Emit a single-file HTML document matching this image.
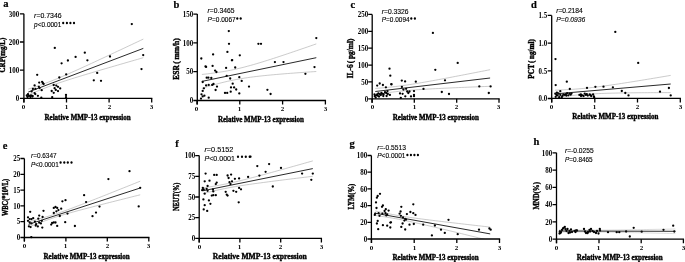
<!DOCTYPE html>
<html><head><meta charset="utf-8"><style>
html,body{margin:0;padding:0;background:#fff;}
svg{display:block;filter:grayscale(1) blur(0.3px);}
.tk{font-family:"Liberation Serif",serif;font-weight:bold;font-size:7.4px;}
.tkx{font-family:"Liberation Serif",serif;font-weight:bold;font-size:7.0px;}
.xl{font-family:"Liberation Serif",serif;font-weight:bold;font-size:7.0px;stroke:#000;stroke-width:0.35px;}
.yl{font-family:"Liberation Serif",serif;font-weight:bold;font-size:7.0px;stroke:#000;stroke-width:0.35px;}
.let{font-family:"Liberation Serif",serif;font-weight:bold;font-size:10.5px;stroke:#000;stroke-width:0.2px;}
.st{font-family:"Liberation Sans",sans-serif;font-size:6.7px;stroke:#000;stroke-width:0.12px;}
</style></head><body>
<svg width="685" height="262" viewBox="0 0 685 262">
<rect width="685" height="262" fill="#fff"/>
<g><clipPath id="c0"><rect x="23.9" y="-6.199999999999999" width="132.79999999999998" height="104.60000000000001"/></clipPath><g clip-path="url(#c0)" fill="none" stroke="#a8a8a8" stroke-width="0.6"><path d="M28.20,89.13 L31.08,88.21 L33.95,87.26 L36.83,86.29 L39.71,85.30 L42.59,84.28 L45.47,83.23 L48.34,82.15 L51.22,81.04 L54.10,79.90 L56.97,78.72 L59.85,77.52 L62.73,76.30 L65.61,75.06 L68.48,73.80 L71.36,72.52 L74.24,71.24 L77.12,69.94 L80.00,68.63 L82.87,67.32 L85.75,66.00 L88.63,64.68 L91.51,63.35 L94.38,62.02 L97.26,60.69 L100.14,59.35 L103.02,58.01 L105.89,56.66 L108.77,55.32 L111.65,53.97 L114.53,52.63 L117.40,51.28 L120.28,49.93 L123.16,48.58 L126.04,47.23 L128.91,45.87 L131.79,44.52 L134.67,43.17 L137.54,41.81 L140.42,40.46 L143.30,39.10"/><path d="M28.20,95.07 L31.08,93.81 L33.95,92.57 L36.83,91.35 L39.71,90.16 L42.59,88.99 L45.47,87.86 L48.34,86.75 L51.22,85.68 L54.10,84.64 L56.97,83.63 L59.85,82.64 L62.73,81.68 L65.61,80.74 L68.48,79.81 L71.36,78.90 L74.24,78.00 L77.12,77.12 L80.00,76.24 L82.87,75.36 L85.75,74.50 L88.63,73.63 L91.51,72.78 L94.38,71.92 L97.26,71.07 L100.14,70.23 L103.02,69.38 L105.89,68.54 L108.77,67.70 L111.65,66.86 L114.53,66.02 L117.40,65.19 L120.28,64.35 L123.16,63.52 L126.04,62.68 L128.91,61.85 L131.79,61.02 L134.67,60.19 L137.54,59.36 L140.42,58.53 L143.30,57.70"/></g><g fill="#000"><circle cx="131.8" cy="24.1" r="1.15"/><circle cx="54.8" cy="47.9" r="1.15"/><circle cx="84.8" cy="52.7" r="1.15"/><circle cx="75.6" cy="56.9" r="1.15"/><circle cx="67.9" cy="60.5" r="1.15"/><circle cx="61.6" cy="63.3" r="1.15"/><circle cx="87.4" cy="60.3" r="1.15"/><circle cx="110" cy="56.5" r="1.15"/><circle cx="143.2" cy="55.1" r="1.15"/><circle cx="141.5" cy="69.1" r="1.15"/><circle cx="97.2" cy="72.9" r="1.15"/><circle cx="66.2" cy="74.4" r="1.15"/><circle cx="59.3" cy="77.5" r="1.15"/><circle cx="93.8" cy="80.3" r="1.15"/><circle cx="101" cy="80.8" r="1.15"/><circle cx="37.2" cy="74.8" r="1.15"/><circle cx="42.1" cy="81.8" r="1.15"/><circle cx="42.8" cy="83" r="1.15"/><circle cx="43.6" cy="84" r="1.15"/><circle cx="39.2" cy="82.6" r="1.15"/><circle cx="34.6" cy="85.4" r="1.15"/><circle cx="38.8" cy="86.8" r="1.15"/><circle cx="39.6" cy="88.1" r="1.15"/><circle cx="32.9" cy="88.9" r="1.15"/><circle cx="35.4" cy="88.9" r="1.15"/><circle cx="41.7" cy="90.2" r="1.15"/><circle cx="31.6" cy="91.4" r="1.15"/><circle cx="34.6" cy="93.1" r="1.15"/><circle cx="35.3" cy="94.1" r="1.15"/><circle cx="37.9" cy="95.8" r="1.15"/><circle cx="53.7" cy="85" r="1.15"/><circle cx="56.3" cy="85.6" r="1.15"/><circle cx="58" cy="86.8" r="1.15"/><circle cx="54.6" cy="88.2" r="1.15"/><circle cx="60.2" cy="88.4" r="1.15"/><circle cx="55.8" cy="89.9" r="1.15"/><circle cx="58" cy="91.1" r="1.15"/><circle cx="51.7" cy="91" r="1.15"/><circle cx="53.7" cy="92.8" r="1.15"/><circle cx="28" cy="94.2" r="1.15"/><circle cx="29" cy="96" r="1.15"/><circle cx="30.5" cy="97" r="1.15"/><circle cx="31" cy="95.5" r="1.15"/><circle cx="32.5" cy="96.5" r="1.15"/><circle cx="27.5" cy="97" r="1.15"/><circle cx="32.5" cy="95.8" r="1.15"/><circle cx="26.8" cy="95.5" r="1.15"/><circle cx="52.2" cy="97.2" r="1.15"/><circle cx="66" cy="95" r="1.15"/><circle cx="66" cy="97.2" r="1.15"/><circle cx="41.3" cy="97.7" r="1.15"/></g><line x1="28.2" y1="92.1" x2="143.3" y2="48.4" stroke="#111" stroke-width="0.9"/><path d="M23.9,13.8 L23.9,102.4 M23.25,98.4 L152.35,98.4" stroke="#000" stroke-width="1.3" fill="none"/><path d="M19.9,98.4 L23.9,98.4 M19.9,70.2 L23.9,70.2 M19.9,42.0 L23.9,42.0 M19.9,13.8 L23.9,13.8 M23.9,98.4 L23.9,102.4 M66.5,98.4 L66.5,102.4 M109.1,98.4 L109.1,102.4 M151.7,98.4 L151.7,102.4 " stroke="#000" stroke-width="1.3" fill="none"/><text transform="translate(19.25,101.15) scale(0.94,1.0)" text-anchor="end" class="tk">0</text><text transform="translate(19.25,72.95) scale(0.94,1.0)" text-anchor="end" class="tk">100</text><text transform="translate(19.25,44.75) scale(0.94,1.0)" text-anchor="end" class="tk">200</text><text transform="translate(19.25,16.55) scale(0.94,1.0)" text-anchor="end" class="tk">300</text><text transform="translate(23.50,108.90)" text-anchor="middle" class="tkx">0</text><text transform="translate(66.50,108.90)" text-anchor="middle" class="tkx">1</text><text transform="translate(109.50,108.90)" text-anchor="middle" class="tkx">2</text><text transform="translate(151.50,108.90)" text-anchor="middle" class="tkx">3</text><text transform="translate(87.50,120.17) scale(1.0,1.03)" text-anchor="middle" class="xl" style="font-size:7.0px">Relative MMP-13 expression</text><text transform="translate(5.44,55.05) rotate(-90) scale(1.0,1.15)" textLength="34.7" lengthAdjust="spacingAndGlyphs" text-anchor="middle" class="yl">CRP(mg/L)</text><text transform="translate(3.2,7.0) scale(1.0,1.0)" class="let">a</text><ellipse cx="63.2" cy="23.1" rx="1.1" ry="1.25" fill="#000"/><ellipse cx="66.9" cy="23.1" rx="1.1" ry="1.25" fill="#000"/><ellipse cx="70.4" cy="23.1" rx="1.1" ry="1.25" fill="#000"/><ellipse cx="74.0" cy="23.1" rx="1.1" ry="1.25" fill="#000"/><text x="34.1" y="18.400000000000002" textLength="27.6" lengthAdjust="spacingAndGlyphs" class="st" style="font-size:6.7px"><tspan font-style="italic">r</tspan>=0.7346</text><text x="34.1" y="26.9" textLength="27.200000000000003" lengthAdjust="spacingAndGlyphs" class="st" style="font-size:6.7px"><tspan font-style="italic">p</tspan>&lt;0.0001</text></g><g><clipPath id="c1"><rect x="197.3" y="-5.9" width="133.09999999999997" height="106.4"/></clipPath><g clip-path="url(#c1)" fill="none" stroke="#a8a8a8" stroke-width="0.6"><path d="M201.90,74.48 L204.76,74.17 L207.62,73.83 L210.48,73.48 L213.34,73.11 L216.20,72.71 L219.06,72.29 L221.92,71.83 L224.78,71.35 L227.64,70.83 L230.50,70.27 L233.36,69.68 L236.22,69.05 L239.08,68.39 L241.94,67.69 L244.80,66.96 L247.66,66.20 L250.52,65.42 L253.38,64.61 L256.24,63.77 L259.10,62.92 L261.96,62.05 L264.82,61.17 L267.68,60.27 L270.54,59.36 L273.40,58.44 L276.26,57.50 L279.12,56.57 L281.98,55.62 L284.84,54.67 L287.70,53.71 L290.56,52.74 L293.42,51.77 L296.28,50.80 L299.14,49.82 L302.00,48.84 L304.86,47.86 L307.72,46.87 L310.58,45.88 L313.44,44.89 L316.30,43.90"/><path d="M201.90,88.32 L204.76,87.45 L207.62,86.60 L210.48,85.76 L213.34,84.95 L216.20,84.16 L219.06,83.40 L221.92,82.67 L224.78,81.97 L227.64,81.31 L230.50,80.68 L233.36,80.09 L236.22,79.53 L239.08,79.01 L241.94,78.52 L244.80,78.06 L247.66,77.64 L250.52,77.24 L253.38,76.86 L256.24,76.51 L259.10,76.18 L261.96,75.86 L264.82,75.56 L267.68,75.28 L270.54,75.00 L273.40,74.74 L276.26,74.49 L279.12,74.24 L281.98,74.00 L284.84,73.77 L287.70,73.54 L290.56,73.32 L293.42,73.11 L296.28,72.89 L299.14,72.69 L302.00,72.48 L304.86,72.28 L307.72,72.08 L310.58,71.89 L313.44,71.69 L316.30,71.50"/></g><g fill="#000"><circle cx="228.8" cy="31.1" r="1.15"/><circle cx="229" cy="43.8" r="1.15"/><circle cx="258.4" cy="43.8" r="1.15"/><circle cx="261.0" cy="43.8" r="1.15"/><circle cx="227.4" cy="51.9" r="1.15"/><circle cx="213.1" cy="54.4" r="1.15"/><circle cx="239.8" cy="55.3" r="1.15"/><circle cx="201.3" cy="58.5" r="1.15"/><circle cx="232.2" cy="60.1" r="1.15"/><circle cx="205.5" cy="66.4" r="1.15"/><circle cx="212.6" cy="65.9" r="1.15"/><circle cx="226.1" cy="67.9" r="1.15"/><circle cx="235.2" cy="67.5" r="1.15"/><circle cx="231.9" cy="60.3" r="1.15"/><circle cx="206.1" cy="66.9" r="1.15"/><circle cx="215.1" cy="70.6" r="1.15"/><circle cx="216.4" cy="72" r="1.15"/><circle cx="226.7" cy="75.8" r="1.15"/><circle cx="206.7" cy="77.7" r="1.15"/><circle cx="208.4" cy="77.7" r="1.15"/><circle cx="211.3" cy="78" r="1.15"/><circle cx="230.2" cy="78.5" r="1.15"/><circle cx="239.3" cy="77.2" r="1.15"/><circle cx="241.7" cy="80.9" r="1.15"/><circle cx="202.7" cy="82" r="1.15"/><circle cx="232.7" cy="83.7" r="1.15"/><circle cx="206.1" cy="85.4" r="1.15"/><circle cx="208.7" cy="84.9" r="1.15"/><circle cx="212.2" cy="84.9" r="1.15"/><circle cx="213.5" cy="84" r="1.15"/><circle cx="217" cy="86.6" r="1.15"/><circle cx="249" cy="86.6" r="1.15"/><circle cx="231" cy="87.4" r="1.15"/><circle cx="234.1" cy="87.4" r="1.15"/><circle cx="236.2" cy="89.5" r="1.15"/><circle cx="203.9" cy="88.3" r="1.15"/><circle cx="202.7" cy="90.9" r="1.15"/><circle cx="215.6" cy="90" r="1.15"/><circle cx="230.7" cy="91.7" r="1.15"/><circle cx="225" cy="92.9" r="1.15"/><circle cx="227.2" cy="92.9" r="1.15"/><circle cx="239.3" cy="93.4" r="1.15"/><circle cx="201.5" cy="94.3" r="1.15"/><circle cx="202.7" cy="96.4" r="1.15"/><circle cx="204.4" cy="95.7" r="1.15"/><circle cx="208.7" cy="97.7" r="1.15"/><circle cx="201" cy="98.6" r="1.15"/><circle cx="316.3" cy="38.1" r="1.15"/><circle cx="274.9" cy="62.1" r="1.15"/><circle cx="283.5" cy="62.1" r="1.15"/><circle cx="314.5" cy="67.1" r="1.15"/><circle cx="305.4" cy="73.8" r="1.15"/><circle cx="267.4" cy="89.8" r="1.15"/><circle cx="270.6" cy="94" r="1.15"/></g><line x1="201.9" y1="81.4" x2="316.3" y2="57.7" stroke="#111" stroke-width="0.9"/><path d="M197.3,14.1 L197.3,104.5 M196.65,100.5 L326.04999999999995,100.5" stroke="#000" stroke-width="1.3" fill="none"/><path d="M193.3,100.5 L197.3,100.5 M193.3,71.7 L197.3,71.7 M193.3,42.9 L197.3,42.9 M193.3,14.1 L197.3,14.1 M197.0,100.5 L197.0,104.5 M239.8,100.5 L239.8,104.5 M282.6,100.5 L282.6,104.5 M325.4,100.5 L325.4,104.5 " stroke="#000" stroke-width="1.3" fill="none"/><text transform="translate(193.25,103.25) scale(0.94,1.0)" text-anchor="end" class="tk">0</text><text transform="translate(193.25,74.45) scale(0.94,1.0)" text-anchor="end" class="tk">50</text><text transform="translate(193.25,45.65) scale(0.94,1.0)" text-anchor="end" class="tk">100</text><text transform="translate(193.25,16.85) scale(0.94,1.0)" text-anchor="end" class="tk">150</text><text transform="translate(196.50,111.00)" text-anchor="middle" class="tkx">0</text><text transform="translate(239.50,111.00)" text-anchor="middle" class="tkx">1</text><text transform="translate(282.50,111.00)" text-anchor="middle" class="tkx">2</text><text transform="translate(325.50,111.00)" text-anchor="middle" class="tkx">3</text><text transform="translate(260.90,121.67) scale(1.0,1.03)" text-anchor="middle" class="xl" style="font-size:7.0px">Relative MMP-13 expression</text><text transform="translate(179.25,59.00) rotate(-90) scale(1.0,1.15)" textLength="41.5" lengthAdjust="spacingAndGlyphs" text-anchor="middle" class="yl">ESR<tspan dx="1.2">(</tspan><tspan dx="1.6">mm/h)</tspan></text><text transform="translate(173.6,7.8) scale(1.0,1.0)" class="let">b</text><ellipse cx="237.3" cy="18.6" rx="1.1" ry="1.25" fill="#000"/><ellipse cx="240.7" cy="18.6" rx="1.1" ry="1.25" fill="#000"/><text x="207.6" y="13.2" textLength="26.900000000000002" lengthAdjust="spacingAndGlyphs" class="st" style="font-size:6.7px"><tspan font-style="italic">r</tspan>=0.3465</text><text x="207.6" y="22.299999999999997" textLength="28.1" lengthAdjust="spacingAndGlyphs" class="st" style="font-size:6.7px"><tspan font-style="italic">P</tspan>=0.0067</text></g><g><clipPath id="c2"><rect x="372.2" y="-5.6" width="131.8" height="104.39999999999999"/></clipPath><g clip-path="url(#c2)" fill="none" stroke="#a8a8a8" stroke-width="0.6"><path d="M375.30,88.43 L378.17,88.21 L381.04,87.98 L383.91,87.73 L386.78,87.46 L389.65,87.17 L392.52,86.87 L395.39,86.54 L398.26,86.19 L401.13,85.81 L404.00,85.42 L406.87,85.01 L409.74,84.58 L412.61,84.13 L415.48,83.67 L418.35,83.20 L421.22,82.71 L424.09,82.22 L426.96,81.71 L429.83,81.20 L432.70,80.69 L435.57,80.16 L438.44,79.63 L441.31,79.10 L444.18,78.57 L447.05,78.03 L449.92,77.48 L452.79,76.94 L455.66,76.39 L458.53,75.84 L461.40,75.29 L464.27,74.73 L467.14,74.18 L470.01,73.62 L472.88,73.07 L475.75,72.51 L478.62,71.95 L481.49,71.39 L484.36,70.83 L487.23,70.26 L490.10,69.70"/><path d="M375.30,94.57 L378.17,94.11 L381.04,93.67 L383.91,93.25 L386.78,92.84 L389.65,92.45 L392.52,92.08 L395.39,91.74 L398.26,91.41 L401.13,91.11 L404.00,90.83 L406.87,90.57 L409.74,90.32 L412.61,90.09 L415.48,89.88 L418.35,89.68 L421.22,89.49 L424.09,89.31 L426.96,89.14 L429.83,88.97 L432.70,88.81 L435.57,88.66 L438.44,88.52 L441.31,88.37 L444.18,88.23 L447.05,88.10 L449.92,87.97 L452.79,87.84 L455.66,87.71 L458.53,87.59 L461.40,87.46 L464.27,87.34 L467.14,87.22 L470.01,87.10 L472.88,86.98 L475.75,86.87 L478.62,86.75 L481.49,86.64 L484.36,86.52 L487.23,86.41 L490.10,86.30"/></g><g fill="#000"><circle cx="389.5" cy="68.7" r="1.15"/><circle cx="390.3" cy="75.7" r="1.15"/><circle cx="391.4" cy="84.1" r="1.15"/><circle cx="401.8" cy="80.6" r="1.15"/><circle cx="405.1" cy="81.4" r="1.15"/><circle cx="415.8" cy="81.7" r="1.15"/><circle cx="377.2" cy="85.6" r="1.15"/><circle cx="379.7" cy="83.5" r="1.15"/><circle cx="382.9" cy="85" r="1.15"/><circle cx="385.9" cy="87.3" r="1.15"/><circle cx="391.4" cy="84.4" r="1.15"/><circle cx="401.9" cy="86.9" r="1.15"/><circle cx="403.4" cy="89.6" r="1.15"/><circle cx="406.1" cy="88.8" r="1.15"/><circle cx="414" cy="91.1" r="1.15"/><circle cx="407.2" cy="91.5" r="1.15"/><circle cx="408.3" cy="93" r="1.15"/><circle cx="409.5" cy="91.5" r="1.15"/><circle cx="400" cy="93.4" r="1.15"/><circle cx="402.6" cy="93.8" r="1.15"/><circle cx="405.3" cy="96.3" r="1.15"/><circle cx="411" cy="96.4" r="1.15"/><circle cx="414" cy="94.9" r="1.15"/><circle cx="414" cy="96.2" r="1.15"/><circle cx="400.8" cy="97.9" r="1.15"/><circle cx="389.9" cy="94.9" r="1.15"/><circle cx="387.5" cy="91.1" r="1.15"/><circle cx="386.3" cy="93" r="1.15"/><circle cx="386.6" cy="96" r="1.15"/><circle cx="383.7" cy="94.1" r="1.15"/><circle cx="383.3" cy="96" r="1.15"/><circle cx="381.4" cy="93" r="1.15"/><circle cx="379.9" cy="94.1" r="1.15"/><circle cx="378.4" cy="93.4" r="1.15"/><circle cx="377.2" cy="94.5" r="1.15"/><circle cx="376.1" cy="95.3" r="1.15"/><circle cx="375.7" cy="97.6" r="1.15"/><circle cx="377.6" cy="95.7" r="1.15"/><circle cx="374.8" cy="96.2" r="1.15"/><circle cx="379" cy="96.5" r="1.15"/><circle cx="380.8" cy="95" r="1.15"/><circle cx="382.2" cy="93.8" r="1.15"/><circle cx="385" cy="92.2" r="1.15"/><circle cx="387.8" cy="94" r="1.15"/><circle cx="374.5" cy="94.5" r="1.15"/><circle cx="432.9" cy="32.9" r="1.15"/><circle cx="457.7" cy="62.9" r="1.15"/><circle cx="435.3" cy="69.8" r="1.15"/><circle cx="445" cy="80.3" r="1.15"/><circle cx="423.5" cy="88.9" r="1.15"/><circle cx="441.8" cy="92" r="1.15"/><circle cx="449" cy="94" r="1.15"/><circle cx="479.3" cy="86.4" r="1.15"/><circle cx="490.6" cy="86.4" r="1.15"/><circle cx="488.8" cy="93" r="1.15"/></g><line x1="375.3" y1="91.5" x2="490.1" y2="78.0" stroke="#111" stroke-width="0.9"/><path d="M372.2,14.4 L372.2,102.8 M371.55,98.8 L499.65,98.8" stroke="#000" stroke-width="1.3" fill="none"/><path d="M368.2,98.8 L372.2,98.8 M368.2,81.92 L372.2,81.92 M368.2,65.04 L372.2,65.04 M368.2,48.16 L372.2,48.16 M368.2,31.28 L372.2,31.28 M368.2,14.4 L372.2,14.4 M372.0,98.8 L372.0,102.8 M414.3,98.8 L414.3,102.8 M456.7,98.8 L456.7,102.8 M499.0,98.8 L499.0,102.8 " stroke="#000" stroke-width="1.3" fill="none"/><text transform="translate(368.25,101.55) scale(0.94,1.0)" text-anchor="end" class="tk">0</text><text transform="translate(368.25,84.67) scale(0.94,1.0)" text-anchor="end" class="tk">50</text><text transform="translate(368.25,67.79) scale(0.94,1.0)" text-anchor="end" class="tk">100</text><text transform="translate(368.25,50.91) scale(0.94,1.0)" text-anchor="end" class="tk">150</text><text transform="translate(368.25,34.03) scale(0.94,1.0)" text-anchor="end" class="tk">200</text><text transform="translate(368.25,17.15) scale(0.94,1.0)" text-anchor="end" class="tk">250</text><text transform="translate(372.50,109.30)" text-anchor="middle" class="tkx">0</text><text transform="translate(414.50,109.30)" text-anchor="middle" class="tkx">1</text><text transform="translate(456.50,109.30)" text-anchor="middle" class="tkx">2</text><text transform="translate(498.50,109.30)" text-anchor="middle" class="tkx">3</text><text transform="translate(435.80,119.58) scale(1.0,1.03)" text-anchor="middle" class="xl" style="font-size:7.0px">Relative MMP-13 expression</text><text transform="translate(353.44,58.45) rotate(-90) scale(1.0,1.15)" textLength="39.7" lengthAdjust="spacingAndGlyphs" text-anchor="middle" class="yl">IL-6<tspan dx="1.2">(</tspan><tspan dx="1.6">pg/ml)</tspan></text><text transform="translate(350.4,7.9) scale(1.0,1.0)" class="let">c</text><ellipse cx="411.3" cy="18.4" rx="1.1" ry="1.25" fill="#000"/><ellipse cx="414.9" cy="18.4" rx="1.1" ry="1.25" fill="#000"/><text x="381.8" y="13.600000000000001" textLength="26.700000000000003" lengthAdjust="spacingAndGlyphs" class="st" style="font-size:6.7px"><tspan font-style="italic">r</tspan>=0.3326</text><text x="381.8" y="22.0" textLength="27.8" lengthAdjust="spacingAndGlyphs" class="st" style="font-size:6.7px"><tspan font-style="italic">P</tspan>=0.0094</text></g><g><clipPath id="c3"><rect x="551.7" y="-4.6" width="133.5999999999999" height="103.0"/></clipPath><g clip-path="url(#c3)" fill="none" stroke="#a8a8a8" stroke-width="0.6"><path d="M555.00,90.17 L557.89,90.07 L560.78,89.95 L563.68,89.83 L566.57,89.68 L569.46,89.52 L572.36,89.34 L575.25,89.14 L578.14,88.92 L581.03,88.67 L583.92,88.40 L586.82,88.12 L589.71,87.81 L592.60,87.48 L595.50,87.13 L598.39,86.77 L601.28,86.39 L604.17,86.00 L607.07,85.60 L609.96,85.19 L612.85,84.76 L615.74,84.33 L618.63,83.90 L621.53,83.45 L624.42,83.00 L627.31,82.55 L630.21,82.09 L633.10,81.63 L635.99,81.16 L638.88,80.69 L641.78,80.22 L644.67,79.75 L647.56,79.27 L650.45,78.79 L653.35,78.31 L656.24,77.83 L659.13,77.35 L662.02,76.86 L664.92,76.37 L667.81,75.89 L670.70,75.40"/><path d="M555.00,97.63 L557.89,97.24 L560.78,96.86 L563.68,96.49 L566.57,96.14 L569.46,95.81 L572.36,95.49 L575.25,95.20 L578.14,94.92 L581.03,94.67 L583.92,94.45 L586.82,94.24 L589.71,94.05 L592.60,93.88 L595.50,93.74 L598.39,93.60 L601.28,93.49 L604.17,93.38 L607.07,93.29 L609.96,93.21 L612.85,93.14 L615.74,93.07 L618.63,93.01 L621.53,92.96 L624.42,92.92 L627.31,92.88 L630.21,92.84 L633.10,92.81 L635.99,92.78 L638.88,92.75 L641.78,92.73 L644.67,92.71 L647.56,92.69 L650.45,92.67 L653.35,92.66 L656.24,92.65 L659.13,92.63 L662.02,92.62 L664.92,92.62 L667.81,92.61 L670.70,92.60"/></g><g fill="#000"><circle cx="615.3" cy="31.9" r="1.15"/><circle cx="555.5" cy="59.1" r="1.15"/><circle cx="638.2" cy="62.9" r="1.15"/><circle cx="566.8" cy="81.7" r="1.15"/><circle cx="555.7" cy="85.1" r="1.15"/><circle cx="560.3" cy="91.2" r="1.15"/><circle cx="569.8" cy="89" r="1.15"/><circle cx="587" cy="87.9" r="1.15"/><circle cx="595.4" cy="86.8" r="1.15"/><circle cx="603.5" cy="86.7" r="1.15"/><circle cx="612.9" cy="87.3" r="1.15"/><circle cx="621.8" cy="91" r="1.15"/><circle cx="625.3" cy="93" r="1.15"/><circle cx="628.5" cy="95.4" r="1.15"/><circle cx="660" cy="91.7" r="1.15"/><circle cx="668.9" cy="88" r="1.15"/><circle cx="670.7" cy="95.4" r="1.15"/><circle cx="555.3" cy="93.7" r="1.15"/><circle cx="556.9" cy="92.6" r="1.15"/><circle cx="557.6" cy="95.3" r="1.15"/><circle cx="555.7" cy="96.8" r="1.15"/><circle cx="559.2" cy="97.2" r="1.15"/><circle cx="560.3" cy="94.9" r="1.15"/><circle cx="561.8" cy="97.2" r="1.15"/><circle cx="563.4" cy="94.5" r="1.15"/><circle cx="564.9" cy="94.9" r="1.15"/><circle cx="566" cy="94.1" r="1.15"/><circle cx="566.4" cy="95.6" r="1.15"/><circle cx="568.3" cy="95.3" r="1.15"/><circle cx="569.5" cy="93.7" r="1.15"/><circle cx="570.6" cy="94.7" r="1.15"/><circle cx="579.4" cy="94.9" r="1.15"/><circle cx="580.9" cy="94.4" r="1.15"/><circle cx="582.1" cy="95.3" r="1.15"/><circle cx="583.6" cy="96" r="1.15"/><circle cx="584.7" cy="93.6" r="1.15"/><circle cx="585.9" cy="94.9" r="1.15"/><circle cx="587.8" cy="95.6" r="1.15"/><circle cx="589.7" cy="94.5" r="1.15"/><circle cx="591.2" cy="96" r="1.15"/><circle cx="593.1" cy="94.5" r="1.15"/><circle cx="593.9" cy="96.4" r="1.15"/><circle cx="556.5" cy="95" r="1.15"/><circle cx="558.5" cy="93.5" r="1.15"/><circle cx="562.5" cy="95.8" r="1.15"/><circle cx="567.2" cy="93.2" r="1.15"/><circle cx="571.5" cy="93.5" r="1.15"/><circle cx="581" cy="96" r="1.15"/><circle cx="586.8" cy="94.2" r="1.15"/><circle cx="590.5" cy="95.2" r="1.15"/><circle cx="594.2" cy="97.3" r="1.15"/></g><line x1="555.0" y1="93.9" x2="670.7" y2="84.0" stroke="#111" stroke-width="0.9"/><path d="M551.7,15.4 L551.7,102.4 M551.0500000000001,98.4 L680.9499999999999,98.4" stroke="#000" stroke-width="1.3" fill="none"/><path d="M547.7,98.5 L551.7,98.5 M547.7,70.8 L551.7,70.8 M547.7,43.1 L551.7,43.1 M547.7,15.4 L551.7,15.4 M551.7,98.4 L551.7,102.4 M594.8,98.4 L594.8,102.4 M637.5,98.4 L637.5,102.4 M680.3,98.4 L680.3,102.4 " stroke="#000" stroke-width="1.3" fill="none"/><text transform="translate(547.25,101.25) scale(0.94,1.0)" text-anchor="end" class="tk">0.0</text><text transform="translate(547.25,73.55) scale(0.94,1.0)" text-anchor="end" class="tk">0.5</text><text transform="translate(547.25,45.85) scale(0.94,1.0)" text-anchor="end" class="tk">1.0</text><text transform="translate(547.25,18.15) scale(0.94,1.0)" text-anchor="end" class="tk">1.5</text><text transform="translate(551.50,108.90)" text-anchor="middle" class="tkx">0</text><text transform="translate(594.50,108.90)" text-anchor="middle" class="tkx">1</text><text transform="translate(637.50,108.90)" text-anchor="middle" class="tkx">2</text><text transform="translate(680.50,108.90)" text-anchor="middle" class="tkx">3</text><text transform="translate(615.30,118.67) scale(1.0,1.03)" text-anchor="middle" class="xl" style="font-size:7.0px">Relative MMP-13 expression</text><text transform="translate(533.94,58.85) rotate(-90) scale(1.0,1.15)" textLength="39.7" lengthAdjust="spacingAndGlyphs" text-anchor="middle" class="yl">PCT<tspan dx="1.2">(</tspan><tspan dx="1.6">ng/ml)</tspan></text><text transform="translate(530.9,7.6) scale(1.0,1.0)" class="let">d</text><text x="556.2" y="13.0" textLength="26.6" lengthAdjust="spacingAndGlyphs" class="st" style="font-size:6.7px"><tspan font-style="italic">r</tspan>=0.2184</text><text x="556.2" y="21.5" textLength="29.200000000000003" lengthAdjust="spacingAndGlyphs" class="st" style="font-size:6.7px" font-style="italic">P=0.0936</text></g><g><clipPath id="c4"><rect x="24.4" y="138.5" width="129.4" height="99.0"/></clipPath><g clip-path="url(#c4)" fill="none" stroke="#a8a8a8" stroke-width="0.6"><path d="M28.50,221.80 L31.29,221.05 L34.09,220.30 L36.88,219.54 L39.67,218.77 L42.46,217.98 L45.25,217.17 L48.05,216.34 L50.84,215.49 L53.63,214.61 L56.42,213.70 L59.22,212.76 L62.01,211.79 L64.80,210.80 L67.59,209.79 L70.39,208.75 L73.18,207.71 L75.97,206.65 L78.77,205.58 L81.56,204.50 L84.35,203.42 L87.14,202.33 L89.93,201.23 L92.73,200.13 L95.52,199.03 L98.31,197.93 L101.10,196.82 L103.90,195.71 L106.69,194.60 L109.48,193.49 L112.27,192.38 L115.07,191.26 L117.86,190.15 L120.65,189.03 L123.44,187.91 L126.24,186.80 L129.03,185.68 L131.82,184.56 L134.61,183.44 L137.41,182.32 L140.20,181.20"/><path d="M28.50,227.00 L31.29,225.93 L34.09,224.86 L36.88,223.80 L39.67,222.75 L42.46,221.72 L45.25,220.71 L48.05,219.72 L50.84,218.75 L53.63,217.81 L56.42,216.90 L59.22,216.02 L62.01,215.17 L64.80,214.34 L67.59,213.53 L70.39,212.75 L73.18,211.97 L75.97,211.21 L78.77,210.46 L81.56,209.72 L84.35,208.98 L87.14,208.25 L89.93,207.53 L92.73,206.81 L95.52,206.09 L98.31,205.37 L101.10,204.66 L103.90,203.95 L106.69,203.24 L109.48,202.53 L112.27,201.82 L115.07,201.12 L117.86,200.41 L120.65,199.71 L123.44,199.01 L126.24,198.30 L129.03,197.60 L131.82,196.90 L134.61,196.20 L137.41,195.50 L140.20,194.80"/></g><g fill="#000"><circle cx="129.5" cy="171.2" r="1.15"/><circle cx="108.4" cy="179.1" r="1.15"/><circle cx="140.2" cy="187.8" r="1.15"/><circle cx="84.1" cy="195.2" r="1.15"/><circle cx="65.5" cy="200.2" r="1.15"/><circle cx="62.4" cy="201.3" r="1.15"/><circle cx="86.1" cy="202.1" r="1.15"/><circle cx="99.5" cy="206.6" r="1.15"/><circle cx="138.7" cy="206.4" r="1.15"/><circle cx="67.5" cy="213.6" r="1.15"/><circle cx="96" cy="212.6" r="1.15"/><circle cx="92.5" cy="216.2" r="1.15"/><circle cx="65.2" cy="222.2" r="1.15"/><circle cx="74.9" cy="226" r="1.15"/><circle cx="30.2" cy="211.8" r="1.15"/><circle cx="43.5" cy="210.8" r="1.15"/><circle cx="53.8" cy="207.9" r="1.15"/><circle cx="55.5" cy="207" r="1.15"/><circle cx="57.2" cy="207.9" r="1.15"/><circle cx="58.4" cy="210.1" r="1.15"/><circle cx="61.2" cy="208.7" r="1.15"/><circle cx="56.4" cy="211.3" r="1.15"/><circle cx="53.8" cy="213" r="1.15"/><circle cx="59.8" cy="216" r="1.15"/><circle cx="39.2" cy="215.6" r="1.15"/><circle cx="42.6" cy="217" r="1.15"/><circle cx="28" cy="217.3" r="1.15"/><circle cx="29.7" cy="219.1" r="1.15"/><circle cx="31.5" cy="219.1" r="1.15"/><circle cx="33.2" cy="218.2" r="1.15"/><circle cx="38.3" cy="218.7" r="1.15"/><circle cx="28" cy="220.8" r="1.15"/><circle cx="29.7" cy="222.5" r="1.15"/><circle cx="31.5" cy="223.4" r="1.15"/><circle cx="34.9" cy="221.6" r="1.15"/><circle cx="36.1" cy="224.2" r="1.15"/><circle cx="39.2" cy="222.5" r="1.15"/><circle cx="40.9" cy="223.4" r="1.15"/><circle cx="41.8" cy="220.8" r="1.15"/><circle cx="28.9" cy="226.3" r="1.15"/><circle cx="30.6" cy="227.1" r="1.15"/><circle cx="35.7" cy="225.6" r="1.15"/><circle cx="37.8" cy="226.4" r="1.15"/><circle cx="42.3" cy="227.6" r="1.15"/><circle cx="52.1" cy="223" r="1.15"/><circle cx="53.8" cy="222.5" r="1.15"/><circle cx="55.5" cy="222.5" r="1.15"/><circle cx="51.2" cy="224.6" r="1.15"/><circle cx="57.2" cy="225.9" r="1.15"/><circle cx="31.3" cy="237.2" r="1.15"/></g><line x1="28.5" y1="224.4" x2="140.2" y2="188.0" stroke="#111" stroke-width="0.9"/><path d="M24.4,158.5 L24.4,241.5 M23.75,237.5 L149.45000000000002,237.5" stroke="#000" stroke-width="1.3" fill="none"/><path d="M20.4,237.5 L24.4,237.5 M20.4,221.7 L24.4,221.7 M20.4,205.9 L24.4,205.9 M20.4,190.1 L24.4,190.1 M20.4,174.3 L24.4,174.3 M20.4,158.5 L24.4,158.5 M24.4,237.5 L24.4,241.5 M65.9,237.5 L65.9,241.5 M107.3,237.5 L107.3,241.5 M148.8,237.5 L148.8,241.5 " stroke="#000" stroke-width="1.3" fill="none"/><text transform="translate(20.25,240.25) scale(0.94,1.0)" text-anchor="end" class="tk">0</text><text transform="translate(20.25,224.45) scale(0.94,1.0)" text-anchor="end" class="tk">5</text><text transform="translate(20.25,208.65) scale(0.94,1.0)" text-anchor="end" class="tk">10</text><text transform="translate(20.25,192.85) scale(0.94,1.0)" text-anchor="end" class="tk">15</text><text transform="translate(20.25,177.05) scale(0.94,1.0)" text-anchor="end" class="tk">20</text><text transform="translate(20.25,161.25) scale(0.94,1.0)" text-anchor="end" class="tk">25</text><text transform="translate(24.50,248.00)" text-anchor="middle" class="tkx">0</text><text transform="translate(65.50,248.00)" text-anchor="middle" class="tkx">1</text><text transform="translate(107.50,248.00)" text-anchor="middle" class="tkx">2</text><text transform="translate(148.50,248.00)" text-anchor="middle" class="tkx">3</text><text transform="translate(86.60,259.18) scale(1.0,1.03)" text-anchor="middle" class="xl" style="font-size:7.0px">Relative MMP-13 expression</text><text transform="translate(8.45,197.50) rotate(-90) scale(1.0,1.15)" textLength="37.2" lengthAdjust="spacingAndGlyphs" text-anchor="middle" class="yl">WBC(*10<tspan dy="-2" font-size="4.5">9</tspan><tspan dy="2">/L)</tspan></text><text transform="translate(2.8,148.6) scale(1.0,1.0)" class="let">e</text><ellipse cx="60.6" cy="162.5" rx="1.1" ry="1.25" fill="#000"/><ellipse cx="64.3" cy="162.5" rx="1.1" ry="1.25" fill="#000"/><ellipse cx="67.8" cy="162.5" rx="1.1" ry="1.25" fill="#000"/><ellipse cx="71.5" cy="162.5" rx="1.1" ry="1.25" fill="#000"/><text x="31.0" y="158.10000000000002" textLength="25.6" lengthAdjust="spacingAndGlyphs" class="st" style="font-size:6.5px"><tspan font-style="italic">r</tspan>=0.6347</text><text x="31.0" y="166.5" textLength="27.8" lengthAdjust="spacingAndGlyphs" class="st" style="font-size:6.5px"><tspan font-style="italic">P</tspan>&lt;0.0001</text></g><g><clipPath id="c5"><rect x="199.2" y="135.6" width="127.19999999999999" height="102.80000000000001"/></clipPath><g clip-path="url(#c5)" fill="none" stroke="#a8a8a8" stroke-width="0.6"><path d="M202.80,187.92 L205.55,187.50 L208.30,187.08 L211.05,186.64 L213.80,186.19 L216.55,185.71 L219.30,185.22 L222.05,184.70 L224.80,184.16 L227.55,183.59 L230.30,183.01 L233.05,182.39 L235.80,181.76 L238.55,181.11 L241.30,180.44 L244.05,179.75 L246.80,179.06 L249.55,178.35 L252.30,177.63 L255.05,176.91 L257.80,176.17 L260.55,175.43 L263.30,174.69 L266.05,173.94 L268.80,173.19 L271.55,172.44 L274.30,171.68 L277.05,170.92 L279.80,170.16 L282.55,169.39 L285.30,168.63 L288.05,167.86 L290.80,167.09 L293.55,166.32 L296.30,165.55 L299.05,164.77 L301.80,164.00 L304.55,163.23 L307.30,162.45 L310.05,161.68 L312.80,160.90"/><path d="M202.80,193.68 L205.55,192.99 L208.30,192.30 L211.05,191.63 L213.80,190.97 L216.55,190.34 L219.30,189.72 L222.05,189.13 L224.80,188.56 L227.55,188.02 L230.30,187.49 L233.05,187.00 L235.80,186.52 L238.55,186.06 L241.30,185.62 L244.05,185.20 L246.80,184.78 L249.55,184.38 L252.30,183.99 L255.05,183.60 L257.80,183.23 L260.55,182.86 L263.30,182.49 L266.05,182.13 L268.80,181.77 L271.55,181.41 L274.30,181.06 L277.05,180.71 L279.80,180.36 L282.55,180.02 L285.30,179.67 L288.05,179.33 L290.80,178.99 L293.55,178.65 L296.30,178.31 L299.05,177.98 L301.80,177.64 L304.55,177.30 L307.30,176.97 L310.05,176.63 L312.80,176.30"/></g><g fill="#000"><circle cx="257.3" cy="166.1" r="1.15"/><circle cx="205.6" cy="173.6" r="1.15"/><circle cx="214.2" cy="174.9" r="1.15"/><circle cx="216.7" cy="174.9" r="1.15"/><circle cx="227.6" cy="175.5" r="1.15"/><circle cx="231.1" cy="174.6" r="1.15"/><circle cx="228.6" cy="178" r="1.15"/><circle cx="234.9" cy="178.8" r="1.15"/><circle cx="239.1" cy="178.4" r="1.15"/><circle cx="248.1" cy="176.9" r="1.15"/><circle cx="204.7" cy="181.3" r="1.15"/><circle cx="209.5" cy="180.7" r="1.15"/><circle cx="216.7" cy="182.6" r="1.15"/><circle cx="215.8" cy="184.1" r="1.15"/><circle cx="229.5" cy="182.2" r="1.15"/><circle cx="230.5" cy="184.1" r="1.15"/><circle cx="232" cy="181.3" r="1.15"/><circle cx="207.6" cy="186" r="1.15"/><circle cx="202.8" cy="187.9" r="1.15"/><circle cx="202.2" cy="190.2" r="1.15"/><circle cx="203.7" cy="189.5" r="1.15"/><circle cx="206.6" cy="188.9" r="1.15"/><circle cx="207.6" cy="190.8" r="1.15"/><circle cx="212.9" cy="189.5" r="1.15"/><circle cx="213.3" cy="191.4" r="1.15"/><circle cx="204.7" cy="193.7" r="1.15"/><circle cx="211.8" cy="195.6" r="1.15"/><circle cx="213.3" cy="195.2" r="1.15"/><circle cx="215.8" cy="195.2" r="1.15"/><circle cx="225.7" cy="191.8" r="1.15"/><circle cx="226.7" cy="194.6" r="1.15"/><circle cx="227.6" cy="195.6" r="1.15"/><circle cx="233.4" cy="190.8" r="1.15"/><circle cx="236.2" cy="191.8" r="1.15"/><circle cx="239.1" cy="187.9" r="1.15"/><circle cx="241" cy="189.3" r="1.15"/><circle cx="203.4" cy="199.4" r="1.15"/><circle cx="208.9" cy="200.4" r="1.15"/><circle cx="210.4" cy="203.8" r="1.15"/><circle cx="204.7" cy="205.2" r="1.15"/><circle cx="238.7" cy="202.3" r="1.15"/><circle cx="203.7" cy="209.4" r="1.15"/><circle cx="207.2" cy="210.9" r="1.15"/><circle cx="250.5" cy="156.7" r="1.15"/><circle cx="269.1" cy="164.1" r="1.15"/><circle cx="281" cy="167.9" r="1.15"/><circle cx="265.6" cy="171.8" r="1.15"/><circle cx="259.4" cy="175.6" r="1.15"/><circle cx="302.1" cy="173.6" r="1.15"/><circle cx="312.8" cy="173.6" r="1.15"/><circle cx="311.3" cy="179.8" r="1.15"/><circle cx="272.8" cy="186.5" r="1.15"/></g><line x1="202.8" y1="190.8" x2="312.8" y2="168.6" stroke="#111" stroke-width="0.9"/><path d="M199.2,155.6 L199.2,242.4 M198.54999999999998,238.4 L322.04999999999995,238.4" stroke="#000" stroke-width="1.3" fill="none"/><path d="M195.2,238.4 L199.2,238.4 M195.2,217.7 L199.2,217.7 M195.2,197.0 L199.2,197.0 M195.2,176.3 L199.2,176.3 M195.2,155.6 L199.2,155.6 M199.2,238.4 L199.2,242.4 M239.9,238.4 L239.9,242.4 M280.7,238.4 L280.7,242.4 M321.4,238.4 L321.4,242.4 " stroke="#000" stroke-width="1.3" fill="none"/><text transform="translate(195.25,241.15) scale(0.94,1.0)" text-anchor="end" class="tk">0</text><text transform="translate(195.25,220.45) scale(0.94,1.0)" text-anchor="end" class="tk">25</text><text transform="translate(195.25,199.75) scale(0.94,1.0)" text-anchor="end" class="tk">50</text><text transform="translate(195.25,179.05) scale(0.94,1.0)" text-anchor="end" class="tk">75</text><text transform="translate(195.25,158.35) scale(0.94,1.0)" text-anchor="end" class="tk">100</text><text transform="translate(199.50,248.90)" text-anchor="middle" class="tkx">0</text><text transform="translate(239.50,248.90)" text-anchor="middle" class="tkx">1</text><text transform="translate(280.50,248.90)" text-anchor="middle" class="tkx">2</text><text transform="translate(321.50,248.90)" text-anchor="middle" class="tkx">3</text><text transform="translate(259.75,259.18) scale(1.0,1.03)" text-anchor="middle" class="xl" style="font-size:7.65px">Relative MMP-13 expression</text><text transform="translate(179.15,196.80) rotate(-90) scale(1.0,1.15)" textLength="28.6" lengthAdjust="spacingAndGlyphs" text-anchor="middle" class="yl">NEUT(%)</text><text transform="translate(175.2,147.3) scale(1.0,1.0)" class="let">f</text><ellipse cx="238.0" cy="156.7" rx="1.1" ry="1.25" fill="#000"/><ellipse cx="242.0" cy="156.7" rx="1.1" ry="1.25" fill="#000"/><ellipse cx="245.8" cy="156.7" rx="1.1" ry="1.25" fill="#000"/><ellipse cx="249.7" cy="156.7" rx="1.1" ry="1.25" fill="#000"/><text x="204.4" y="151.9" textLength="29.0" lengthAdjust="spacingAndGlyphs" class="st" style="font-size:7.4px"><tspan font-style="italic">r</tspan>=0.5152</text><text x="204.4" y="160.70000000000002" textLength="30.6" lengthAdjust="spacingAndGlyphs" class="st" style="font-size:7.4px"><tspan font-style="italic">P</tspan>&lt;0.0001</text></g><g><clipPath id="c6"><rect x="371.4" y="135.5" width="133.10000000000002" height="103.5"/></clipPath><g clip-path="url(#c6)" fill="none" stroke="#a8a8a8" stroke-width="0.6"><path d="M375.20,210.94 L378.07,211.57 L380.95,212.19 L383.82,212.79 L386.70,213.38 L389.57,213.95 L392.45,214.50 L395.32,215.02 L398.20,215.53 L401.07,216.01 L403.95,216.47 L406.82,216.92 L409.70,217.34 L412.57,217.76 L415.45,218.16 L418.32,218.55 L421.20,218.93 L424.07,219.30 L426.95,219.67 L429.82,220.03 L432.70,220.39 L435.57,220.74 L438.45,221.09 L441.32,221.44 L444.20,221.78 L447.07,222.12 L449.95,222.46 L452.82,222.80 L455.70,223.14 L458.57,223.47 L461.45,223.81 L464.32,224.14 L467.20,224.47 L470.07,224.80 L472.95,225.13 L475.82,225.46 L478.70,225.79 L481.57,226.12 L484.45,226.45 L487.32,226.77 L490.20,227.10"/><path d="M375.20,215.46 L378.07,215.86 L380.95,216.28 L383.82,216.71 L386.70,217.16 L389.57,217.63 L392.45,218.11 L395.32,218.62 L398.20,219.15 L401.07,219.71 L403.95,220.28 L406.82,220.87 L409.70,221.48 L412.57,222.10 L415.45,222.73 L418.32,223.38 L421.20,224.03 L424.07,224.69 L426.95,225.36 L429.82,226.03 L432.70,226.71 L435.57,227.39 L438.45,228.08 L441.32,228.77 L444.20,229.46 L447.07,230.15 L449.95,230.85 L452.82,231.54 L455.70,232.24 L458.57,232.94 L461.45,233.64 L464.32,234.35 L467.20,235.05 L470.07,235.75 L472.95,236.46 L475.82,237.16 L478.70,237.87 L481.57,238.58 L484.45,239.28 L487.32,239.99 L490.20,240.70"/></g><g fill="#000"><circle cx="380" cy="193.8" r="1.15"/><circle cx="377.7" cy="196" r="1.15"/><circle cx="376.9" cy="197.7" r="1.15"/><circle cx="376" cy="202.4" r="1.15"/><circle cx="376.5" cy="208" r="1.15"/><circle cx="382.9" cy="205.5" r="1.15"/><circle cx="382" cy="206.8" r="1.15"/><circle cx="385.8" cy="209.2" r="1.15"/><circle cx="384.6" cy="211" r="1.15"/><circle cx="388.6" cy="210.6" r="1.15"/><circle cx="375.2" cy="213.7" r="1.15"/><circle cx="374.8" cy="214.9" r="1.15"/><circle cx="378.6" cy="213.2" r="1.15"/><circle cx="379.5" cy="215.8" r="1.15"/><circle cx="382.4" cy="213.7" r="1.15"/><circle cx="385.5" cy="213.2" r="1.15"/><circle cx="386.3" cy="215.4" r="1.15"/><circle cx="387.2" cy="214.4" r="1.15"/><circle cx="377.7" cy="220.9" r="1.15"/><circle cx="376.9" cy="223.5" r="1.15"/><circle cx="382.9" cy="225.2" r="1.15"/><circle cx="387.2" cy="225.7" r="1.15"/><circle cx="390.3" cy="222.6" r="1.15"/><circle cx="391" cy="222.3" r="1.15"/><circle cx="390.3" cy="227.5" r="1.15"/><circle cx="378.2" cy="229.2" r="1.15"/><circle cx="401.3" cy="206.8" r="1.15"/><circle cx="400.6" cy="211.5" r="1.15"/><circle cx="399.6" cy="213.7" r="1.15"/><circle cx="400.9" cy="215.8" r="1.15"/><circle cx="403" cy="217.5" r="1.15"/><circle cx="406.9" cy="214.1" r="1.15"/><circle cx="405.2" cy="218.9" r="1.15"/><circle cx="406.1" cy="219.6" r="1.15"/><circle cx="404.4" cy="220.6" r="1.15"/><circle cx="413.3" cy="204.3" r="1.15"/><circle cx="410.4" cy="212" r="1.15"/><circle cx="413.3" cy="213.2" r="1.15"/><circle cx="415.5" cy="214.9" r="1.15"/><circle cx="402.6" cy="223.5" r="1.15"/><circle cx="401.3" cy="226.9" r="1.15"/><circle cx="405.2" cy="229.5" r="1.15"/><circle cx="409.5" cy="224.7" r="1.15"/><circle cx="413.8" cy="224" r="1.15"/><circle cx="448.5" cy="219.8" r="1.15"/><circle cx="423.2" cy="224.7" r="1.15"/><circle cx="434.9" cy="225.5" r="1.15"/><circle cx="441" cy="229.7" r="1.15"/><circle cx="444.8" cy="232.9" r="1.15"/><circle cx="431.9" cy="235.4" r="1.15"/><circle cx="457.7" cy="234.2" r="1.15"/><circle cx="479" cy="229.7" r="1.15"/><circle cx="489.4" cy="228.5" r="1.15"/><circle cx="490.7" cy="229.7" r="1.15"/></g><line x1="375.2" y1="213.2" x2="490.2" y2="233.9" stroke="#111" stroke-width="0.9"/><path d="M371.4,155.5 L371.4,243.0 M370.75,239.0 L500.15,239.0" stroke="#000" stroke-width="1.3" fill="none"/><path d="M367.4,239.0 L371.4,239.0 M367.4,222.3 L371.4,222.3 M367.4,205.6 L371.4,205.6 M367.4,188.9 L371.4,188.9 M367.4,172.2 L371.4,172.2 M367.4,155.5 L371.4,155.5 M371.5,239.0 L371.5,243.0 M414.2,239.0 L414.2,243.0 M456.8,239.0 L456.8,243.0 M499.5,239.0 L499.5,243.0 " stroke="#000" stroke-width="1.3" fill="none"/><text transform="translate(367.25,241.75) scale(0.94,1.0)" text-anchor="end" class="tk">0</text><text transform="translate(367.25,225.05) scale(0.94,1.0)" text-anchor="end" class="tk">20</text><text transform="translate(367.25,208.35) scale(0.94,1.0)" text-anchor="end" class="tk">40</text><text transform="translate(367.25,191.65) scale(0.94,1.0)" text-anchor="end" class="tk">60</text><text transform="translate(367.25,174.95) scale(0.94,1.0)" text-anchor="end" class="tk">80</text><text transform="translate(367.25,158.25) scale(0.94,1.0)" text-anchor="end" class="tk">100</text><text transform="translate(371.50,249.50)" text-anchor="middle" class="tkx">0</text><text transform="translate(414.50,249.50)" text-anchor="middle" class="tkx">1</text><text transform="translate(456.50,249.50)" text-anchor="middle" class="tkx">2</text><text transform="translate(499.50,249.50)" text-anchor="middle" class="tkx">3</text><text transform="translate(435.50,259.57) scale(1.0,1.03)" text-anchor="middle" class="xl" style="font-size:7.0px">Relative MMP-13 expression</text><text transform="translate(353.94,196.70) rotate(-90) scale(1.0,1.15)" textLength="25.8" lengthAdjust="spacingAndGlyphs" text-anchor="middle" class="yl">LYM(%)</text><text transform="translate(349.6,147.0) scale(1.0,1.0)" class="let">g</text><ellipse cx="407.4" cy="155.0" rx="1.1" ry="1.25" fill="#000"/><ellipse cx="410.9" cy="155.0" rx="1.1" ry="1.25" fill="#000"/><ellipse cx="414.4" cy="155.0" rx="1.1" ry="1.25" fill="#000"/><ellipse cx="417.9" cy="155.0" rx="1.1" ry="1.25" fill="#000"/><text x="377.2" y="150.3" textLength="28.8" lengthAdjust="spacingAndGlyphs" class="st" style="font-size:6.7px"><tspan font-style="italic">r</tspan>=-0.5513</text><text x="377.2" y="158.4" textLength="28.3" lengthAdjust="spacingAndGlyphs" class="st" style="font-size:6.7px"><tspan font-style="italic">P</tspan>&lt;0.0001</text></g><g><clipPath id="c7"><rect x="556.5" y="132.8" width="131.89999999999998" height="106.39999999999998"/></clipPath><g clip-path="url(#c7)" fill="none" stroke="#c4c4c4" stroke-width="0.6"><path d="M559.00,229.91 L561.91,229.96 L564.82,230.00 L567.73,230.04 L570.64,230.07 L573.55,230.10 L576.46,230.12 L579.37,230.14 L582.28,230.16 L585.19,230.17 L588.10,230.17 L591.01,230.17 L593.92,230.17 L596.83,230.16 L599.74,230.14 L602.65,230.12 L605.56,230.10 L608.47,230.07 L611.38,230.04 L614.29,230.01 L617.20,229.98 L620.11,229.94 L623.02,229.90 L625.93,229.86 L628.84,229.81 L631.75,229.77 L634.66,229.72 L637.57,229.68 L640.48,229.63 L643.39,229.58 L646.30,229.53 L649.21,229.48 L652.12,229.43 L655.03,229.38 L657.94,229.32 L660.85,229.27 L663.76,229.22 L666.67,229.16 L669.58,229.11 L672.49,229.06 L675.40,229.00"/><path d="M559.00,232.09 L561.91,232.06 L564.82,232.03 L567.73,232.01 L570.64,231.99 L573.55,231.98 L576.46,231.97 L579.37,231.96 L582.28,231.96 L585.19,231.97 L588.10,231.98 L591.01,231.99 L593.92,232.01 L596.83,232.04 L599.74,232.07 L602.65,232.10 L605.56,232.14 L608.47,232.18 L611.38,232.23 L614.29,232.27 L617.20,232.32 L620.11,232.38 L623.02,232.43 L625.93,232.49 L628.84,232.55 L631.75,232.60 L634.66,232.67 L637.57,232.73 L640.48,232.79 L643.39,232.85 L646.30,232.92 L649.21,232.98 L652.12,233.05 L655.03,233.12 L657.94,233.19 L660.85,233.25 L663.76,233.32 L666.67,233.39 L669.58,233.46 L672.49,233.53 L675.40,233.60"/></g><g fill="#000"><circle cx="559.8" cy="231.4" r="1.15"/><circle cx="560.5" cy="233" r="1.15"/><circle cx="562" cy="230" r="1.15"/><circle cx="563" cy="228.5" r="1.15"/><circle cx="564.8" cy="227" r="1.15"/><circle cx="565.5" cy="229.2" r="1.15"/><circle cx="566.5" cy="231" r="1.15"/><circle cx="567.5" cy="229" r="1.15"/><circle cx="568.5" cy="233" r="1.15"/><circle cx="569.5" cy="231" r="1.15"/><circle cx="571" cy="229.5" r="1.15"/><circle cx="572" cy="232" r="1.15"/><circle cx="574.5" cy="231" r="1.15"/><circle cx="576" cy="230.5" r="1.15"/><circle cx="584" cy="229" r="1.15"/><circle cx="585" cy="231.5" r="1.15"/><circle cx="586" cy="233" r="1.15"/><circle cx="588" cy="232" r="1.15"/><circle cx="589.5" cy="230" r="1.15"/><circle cx="591" cy="229" r="1.15"/><circle cx="592.5" cy="231" r="1.15"/><circle cx="594" cy="232" r="1.15"/><circle cx="597" cy="231" r="1.15"/><circle cx="598.5" cy="233.5" r="1.15"/><circle cx="600" cy="230.5" r="1.15"/><circle cx="599.8" cy="228.9" r="1.15"/><circle cx="608" cy="232.2" r="1.15"/><circle cx="616.7" cy="232.2" r="1.15"/><circle cx="619.3" cy="232.2" r="1.15"/><circle cx="626.1" cy="231.5" r="1.15"/><circle cx="629.8" cy="236.5" r="1.15"/><circle cx="633.7" cy="227.8" r="1.15"/><circle cx="641.7" cy="231.7" r="1.15"/><circle cx="663.5" cy="229.8" r="1.15"/><circle cx="673.2" cy="225.7" r="1.15"/><circle cx="674.3" cy="231.5" r="1.15"/><circle cx="559.5" cy="233.5" r="1.15"/><circle cx="561" cy="232" r="1.15"/><circle cx="563.8" cy="227.8" r="1.15"/><circle cx="570" cy="232.5" r="1.15"/><circle cx="575.5" cy="232" r="1.15"/><circle cx="577" cy="230.5" r="1.15"/><circle cx="587.5" cy="233.2" r="1.15"/><circle cx="590" cy="231.5" r="1.15"/><circle cx="596" cy="233" r="1.15"/></g><line x1="559.0" y1="231.0" x2="675.4" y2="231.3" stroke="#111" stroke-width="0.9"/><path d="M556.5,152.8 L556.5,243.2 M555.85,239.2 L684.05,239.2" stroke="#000" stroke-width="1.3" fill="none"/><path d="M552.5,239.2 L556.5,239.2 M552.5,221.92 L556.5,221.92 M552.5,204.64 L556.5,204.64 M552.5,187.36 L556.5,187.36 M552.5,170.08 L556.5,170.08 M552.5,152.8 L556.5,152.8 M556.5,239.2 L556.5,243.2 M599.0,239.2 L599.0,243.2 M641.2,239.2 L641.2,243.2 M683.4,239.2 L683.4,243.2 " stroke="#000" stroke-width="1.3" fill="none"/><text transform="translate(552.25,241.95) scale(0.94,1.0)" text-anchor="end" class="tk">0</text><text transform="translate(552.25,224.67) scale(0.94,1.0)" text-anchor="end" class="tk">20</text><text transform="translate(552.25,207.39) scale(0.94,1.0)" text-anchor="end" class="tk">40</text><text transform="translate(552.25,190.11) scale(0.94,1.0)" text-anchor="end" class="tk">60</text><text transform="translate(552.25,172.83) scale(0.94,1.0)" text-anchor="end" class="tk">80</text><text transform="translate(552.25,155.55) scale(0.94,1.0)" text-anchor="end" class="tk">100</text><text transform="translate(556.50,249.70)" text-anchor="middle" class="tkx">0</text><text transform="translate(598.50,249.70)" text-anchor="middle" class="tkx">1</text><text transform="translate(641.50,249.70)" text-anchor="middle" class="tkx">2</text><text transform="translate(683.50,249.70)" text-anchor="middle" class="tkx">3</text><text transform="translate(619.70,259.88) scale(1.0,1.03)" text-anchor="middle" class="xl" style="font-size:7.0px">Relative MMP-13 expression</text><text transform="translate(538.94,195.85) rotate(-90) scale(1.0,1.15)" textLength="27.5" lengthAdjust="spacingAndGlyphs" text-anchor="middle" class="yl">MND(%)</text><text transform="translate(533.4,145.4) scale(1.0,1.0)" class="let">h</text><text x="565.0" y="152.70000000000002" textLength="28.6" lengthAdjust="spacingAndGlyphs" class="st" style="font-size:6.7px"><tspan font-style="italic">r</tspan>=-0.0255</text><text x="565.0" y="161.9" textLength="27.700000000000003" lengthAdjust="spacingAndGlyphs" class="st" style="font-size:6.7px"><tspan font-style="italic">P</tspan>=0.8465</text></g>
</svg>
</body></html>
